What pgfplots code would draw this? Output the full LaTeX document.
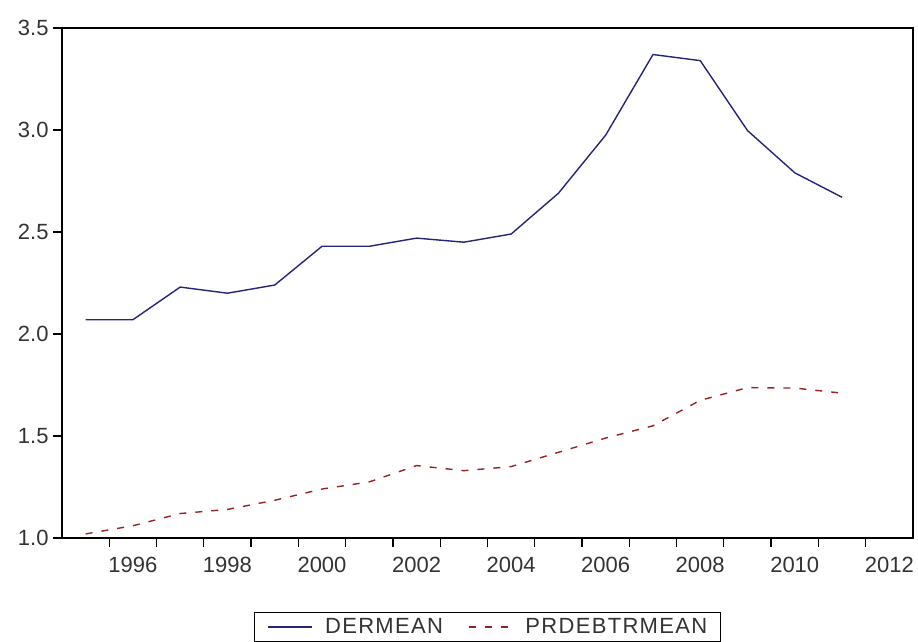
\documentclass[border=0pt]{standalone}
\usepackage{fontspec}
\setmainfont{Liberation Sans}
\newfontfamily\legfont[LetterSpace=6]{Liberation Sans}
\usepackage{pgfplots}
\pgfplotsset{compat=1.18}
\definecolor{dnavy}{RGB}{36,36,120}
\definecolor{dred}{RGB}{150,35,40}
\begin{document}
\begin{tikzpicture}
\begin{axis}[
  scale only axis,
  width=851pt, height=510pt,
  xmin=1994.5, xmax=2012.5,
  ymin=1, ymax=3.5,
  axis line style={black, line width=1.4pt},
  xtick={1995.5,1996.5,...,2011.5},
  xticklabels={1996,,1998,,2000,,2002,,2004,,2006,,2008,,2010,,2012},
  major tick length=9pt,
  ytick={1,1.5,...,3.5},
  xtick style={black, line width=1.3pt},
  ytick style={black, line width=1.3pt},
  tick align=outside,
  xtick pos=lower, ytick pos=lower,
  /pgf/number format/assume math mode=true,
  tick label style={font=\fontsize{22}{26}\selectfont, text=black!80},
  xticklabel style={xshift=23.64pt, yshift=-7pt},
  yticklabel style={/pgf/number format/fixed, /pgf/number format/fixed zerofill, /pgf/number format/precision=1, xshift=-1pt},
  legend columns=2,
  legend style={at={(0.5,-0.145)}, anchor=north, draw=black, line width=1.2pt,
    font=\legfont\fontsize{22}{26}\selectfont, text=black!80, inner xsep=13pt, inner ysep=4pt,
    nodes={inner xsep=0pt},
    /tikz/every even column/.append style={column sep=25pt}},
  legend image code/.code={\draw[#1, line width=1.3pt] (0pt,0pt) -- (44pt,0pt); \path (56pt,0pt);},
  extra description/.code={
    \foreach \t in {0,0.2,0.4,0.6,0.8,1}{
      \draw[black, line width=1.3pt] (axis description cs:0,\t) -- ++(-9pt,0pt);
    }
  },
]
\coordinate (bl) at (rel axis cs:0,0);
\coordinate (tr) at (rel axis cs:1,1);
\addplot[dnavy, line width=1.4pt] coordinates {
(1995,2.07) (1996,2.07) (1997,2.23) (1998,2.20) (1999,2.24) (2000,2.43)
(2001,2.43) (2002,2.47) (2003,2.45) (2004,2.49) (2005,2.69) (2006,2.975)
(2007,3.37) (2008,3.34) (2009,2.997) (2010,2.79) (2011,2.67)};
\addlegendentry{DERMEAN}
\addplot[dred, line width=1.4pt, dash pattern=on 7pt off 9pt] coordinates {
(1995,1.02) (1996,1.06) (1997,1.12) (1998,1.14) (1999,1.185) (2000,1.24)
(2001,1.275) (2002,1.355) (2003,1.33) (2004,1.35) (2005,1.42) (2006,1.49)
(2007,1.55) (2008,1.675) (2009,1.737) (2010,1.735) (2011,1.71)};
\addlegendentry{PRDEBTRMEAN}
\end{axis}
\pgfresetboundingbox
\path ([shift={(-62pt,-104pt)}]bl) rectangle ([shift={(5pt,28pt)}]tr);
\end{tikzpicture}
\end{document}
